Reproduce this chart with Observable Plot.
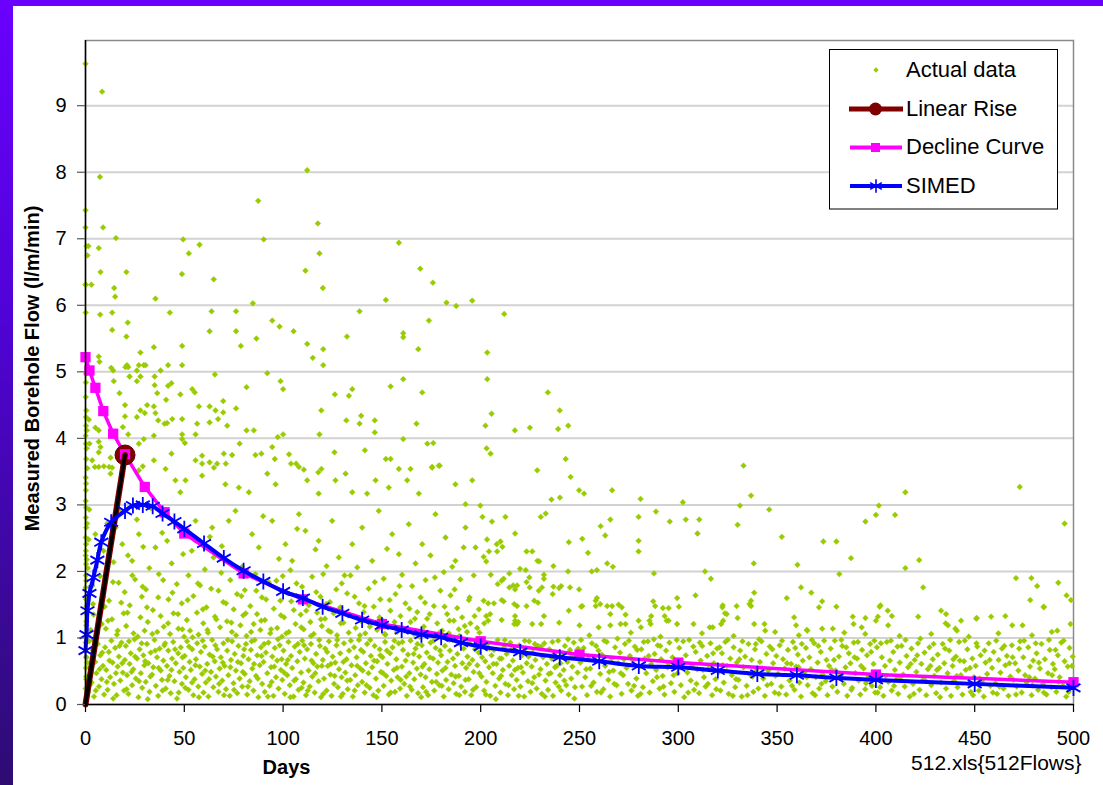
<!DOCTYPE html>
<html><head><meta charset="utf-8">
<script src="https://cdn.jsdelivr.net/npm/d3@7"></script>
<script src="https://cdn.jsdelivr.net/npm/@observablehq/plot@0.6"></script>
<style>
html,body{margin:0;padding:0;}
body{width:1103px;height:785px;overflow:hidden;position:relative;background:linear-gradient(180deg,#6a00ff 0%,#5003d6 40%,#2d0c72 100%);font-family:"Liberation Sans",Arial,sans-serif;}
#panel{position:absolute;left:13px;top:6px;width:1090px;height:779px;background:#fff;}
#chart{position:absolute;left:0;top:0;}
#legend{position:absolute;left:0;top:0;}
</style></head>
<body>
<div id="panel"></div>
<div id="chart"></div>
<svg id="legend" width="1103" height="785"></svg>
<script>
// ---------- Data ----------
const xTicks = [0,50,100,150,200,250,300,350,400,450,500];
const yTicks = [0,1,2,3,4,5,6,7,8,9];

const linearDays = [0,20];
const linearFlows = [0,3.75];

const declineDays = [0,2,5,9,14,20,30,40,50,80,110,150,200,250,300,400,500];
const declineFlows = [5.22,5.02,4.76,4.41,4.07,3.76,3.27,2.89,2.57,1.97,1.58,1.21,0.95,0.75,0.63,0.45,0.335];

const simedDays = [0,0.5,1,2,4,6,8,13,20,24,29,34,39,45,50,60,70,80,90,100,110,120,130,140,150,160,170,180,190,200,220,240,260,280,300,320,340,360,380,400,450,500];
const simedFlows = [0.81,1.05,1.41,1.67,1.91,2.17,2.44,2.74,2.91,2.99,3.0,2.98,2.87,2.75,2.64,2.42,2.2,2.01,1.85,1.70,1.60,1.47,1.37,1.27,1.19,1.12,1.05,1.01,0.93,0.87,0.79,0.71,0.65,0.58,0.56,0.51,0.46,0.44,0.40,0.37,0.31,0.25];

// Actual data: [day, flow]
const actualDay0 = [[0.2,6.31],[0.1,5.89],[0.3,4.97],[0.2,4.84],[0.1,4.62],[0.4,4.42],[0.2,4.32],[0.3,4.19],[0.1,4.04],[0.2,3.92],[0.4,3.69],[0.1,3.41],[0.3,3.32],[0.2,3.22],[0.1,3.06],[0.3,2.96],[0.2,2.81],[0.4,2.66],[0.1,2.51],[0.3,2.41],[0.2,2.31],[0.1,2.24],[0.3,2.11],[0.2,1.94],[0.4,1.86],[0.1,1.76],[0.3,1.58],[0.2,1.37],[0.4,1.19],[0.1,0.93],[0.3,0.71],[0.2,0.55],[0.4,0.38],[0.1,0.24],[0.6,3.85],[0.8,2.72],[0.7,4.12],[0.9,3.55],[0.6,2.18],[0.5,1.48]];

const actualHigh = [[0,9.63],[8.4,9.21],[7.3,7.93],[0,7.43],[0,7.17],[8.9,7.17],[15.4,7.01],[0.5,6.89],[1.5,6.89],[1,6.75],[6.7,6.86],[7.6,6.50],[20.7,6.50],[14.5,6.26],[15,6.13],[0,6.31],[3,6.31],[35.4,6.10],[49.4,6.99],[52.3,6.78],[57.7,6.91],[48.8,6.47],[64.9,6.39],[87.4,7.57],[90.2,6.99],[112.2,8.03],[117.6,7.23],[118.4,6.78],[111.3,6.52],[120.1,6.26],[158.6,6.94],[152,6.08],
[169.4,6.55],[175.8,6.34],[84.7,6.03],[182.7,6.04],[187.6,5.99],[195.7,6.07],[211.9,5.87],[7.4,5.86],[13.5,5.89],[42.7,5.89],[63.8,5.91],[76.2,5.91],[138.7,5.91],[21.4,5.74],[94.5,5.77],[98.2,5.68],[105.3,5.61],[173.8,5.77],[13.5,5.63],[62.8,5.61],[76.2,5.61],[20.7,5.53],[86.5,5.50],[132.3,5.53],[160.8,5.58],[160.8,5.52],[34.6,5.37],[48.9,5.39],[78.6,5.39],[112.2,5.42],[120.3,5.34],[168.4,5.34],[203.3,5.29],[27.8,5.29],[6.7,5.23],[7.1,5.15],[48.9,5.10],[21,5.1],[21.6,5.07],[20.2,5.07],[27,5.1],[29.5,5.1],[30.4,5.1],[41.8,5.1],[13,5.06],[14,5.02],[26,5.02],[38,5.02],[115,5.21],[120.3,5.1],
[22.3,4.93],[27.8,4.93],[35,4.93],[65.5,4.96],[92,4.98],[160.8,4.89],[203.3,4.89],[14.3,4.86],[26,4.86],[35,4.8],[43.5,4.83],[41.8,4.79],[54,4.74],[55.3,4.69],[98.7,4.86],[100,4.74],[81.5,4.77],[154.4,4.78],[135,4.74],[170.4,4.69],[234,4.69],[17.2,4.68],[36.3,4.68],[48,4.66],[126.2,4.66],[133.3,4.64],[40.8,4.58],[20,4.5],[31.2,4.5],[34.6,4.48],[57.4,4.48],[62.8,4.48],[69.7,4.56],[65.8,4.42],[69.7,4.39],[76.2,4.45],[119.3,4.42],[205.5,4.37],[240,4.42],[26,4.32],[27.8,4.42],[30,4.38],[35.4,4.38],[1.7,4.28],[20,4.33],[43.9,4.29],[36.8,4.27],[40,4.22],[41.3,4.23],[48.9,4.29],[56.5,4.22],[62.8,4.24],[67.1,4.29],[71.7,4.19],[132,4.27],[139.5,4.34],[138.7,4.22],[146.4,4.27],[167.5,4.22],[202.4,4.19],[224.9,4.16],[244.3,4.19],[239.2,4.14],[217.3,4.12],
[5,4.16],[6.7,4.12],[18.9,4.17],[21.6,4.06],[34.6,4.04],[48.9,4.06],[48.9,3.99],[50.3,3.93],[55.7,4.06],[81.5,4.12],[85.2,4.12],[97.3,4.02],[100,4.06],[118.4,4.06],[146.4,4.09],[160.8,3.99],[29.5,3.99],[27,3.92],[6.7,3.95],[7.6,3.87],[6.7,3.79],[2,3.92],[78,3.92],[94.5,3.87],[173,3.92],[176,3.93],[203,3.85],[205,3.77],[43.5,3.77],[59,3.74],[70,3.77],[74.2,3.75],[86,3.75],[89,3.77],[103,3.76],[126,3.79],[141.4,3.82],[152,3.69],[154.4,3.69],[243,3.69],[3.4,3.67],[4.7,3.57],[12.7,3.71],[9.3,3.58],[12,3.57],[13.5,3.56],[29,3.58],[34.6,3.67],[55.7,3.67],[59,3.62],[62.8,3.64],[65,3.56],[71,3.62],[95.8,3.69],[104,3.62],[106.6,3.62],[110.5,3.53],[117.8,3.49],[119.4,3.54],[175.4,3.56],[179.2,3.59],[164.5,3.54],[228.6,3.52],[245.5,3.42]];

const actualMidA = [[0.4,1.25],[0.7,1.62],[1.1,2.05],[1.5,2.48],[1.9,2.93],[2.6,1.12],[3.3,1.78],[4.1,1.35],[5.0,2.56],[5.8,1.08],[6.7,3.57],[7.4,1.93],[8.2,1.21],[9.1,2.31],[9.7,1.47],
[10.3,1.14],[11.0,2.72],[11.9,1.56],[12.7,3.47],[13.4,1.28],[14.2,2.14],[15.2,2.66],[15.9,1.05],[16.8,1.83],[17.5,2.92],[18.6,2.41],[19.3,1.37],[19.8,1.69],
[20.6,1.18],[21.5,2.24],[22.4,1.49],[23.6,2.16],[24.3,1.07],[25.1,1.88],[26.0,2.78],[27.0,2.56],[27.0,3.52],[27.8,1.31],[28.5,1.62],[29.2,2.37],[29.9,1.11],
[30.6,1.73],[31.5,1.24],[32.3,2.05],[33.2,2.95],[34.1,1.42],[35.4,2.36],[36.3,1.09],[37.1,1.96],[38.0,1.33],[38.8,2.58],[39.6,1.17],[40.5,3.54],
[41.3,2.46],[42.0,1.58],[42.8,1.06],[43.6,2.12],[44.5,1.37],[45.5,3.37],[46.2,1.81],[47.0,1.14],[48.0,3.19],[48.7,1.52],[49.4,2.26],[49.9,1.02],
[50.6,3.37],[51.3,1.27],[52.1,1.94],[52.9,1.11],[53.8,2.31],[54.6,1.63],[55.7,2.76],[56.4,1.38],[57.2,1.05],[58.0,1.79],[59.0,3.44],[59.6,1.22],
[60.4,2.03],[61.2,1.46],[62.0,1.08],[62.9,2.52],[64.1,2.66],[64.8,2.21],[65.5,1.32],[66.6,3.62],[67.3,1.71],[68.1,1.16],[69.0,2.38],[69.7,1.54],
[70.8,3.31],[71.6,1.25],[72.5,2.76],[73.3,1.87],[74.1,1.09],[75.0,1.43],[75.9,2.91],[76.7,1.66],[77.6,3.26],[78.4,1.19],[79.2,2.07],[79.8,1.34],
[80.6,1.72],[81.5,1.03],[82.7,3.19],[83.4,1.48],[84.3,2.56],[85.1,1.21],[86.0,1.96],[86.8,1.36],[87.7,2.36],[88.5,1.12],[89.3,1.61],[89.9,2.83],
[90.8,1.27],[92.0,3.47],[92.7,1.84],[93.5,1.07],[94.5,2.76],[95.3,1.44],[96.2,3.31],[97.0,1.15],[97.9,2.19],[98.6,1.56],[99.4,1.02],[99.8,1.93],
[100.5,1.31],[101.2,2.41],[102.0,1.68],[102.9,1.09],[103.7,2.02],[104.6,2.16],[105.4,1.42],[106.3,1.21],[107.1,2.64],[108.0,2.86],[108.0,3.57],[108.9,1.35],[109.6,1.77],
[110.4,1.13],[111.3,2.61],[112.2,3.37],[113.0,1.49],[113.8,1.24],[114.7,1.92],[115.5,1.06],[116.4,2.33],[117.2,1.38],[118.0,2.46],[118.0,3.17],[118.9,1.62],[119.6,1.18],
[120.3,1.96],[121.2,1.29],[122.0,2.08],[122.9,1.11],[123.7,1.54],[124.8,2.76],[125.6,1.37],[126.5,3.37],[127.3,1.04],[128.2,2.21],[128.9,1.46],[129.7,1.82],
[130.5,1.23],[131.6,3.47],[132.4,1.67],[133.2,1.08],[134.1,1.94],[135.0,2.41],[135.0,3.19],[135.8,1.33],[136.7,1.15],[137.5,2.06],[138.4,1.52],[139.2,1.26],[140.0,2.66],
[140.8,1.39],[141.6,1.07],[142.5,3.17],[143.3,1.74],[144.2,1.21],[145.1,2.16],[145.9,1.47],[146.8,3.37],[147.6,1.12],[148.4,2.91],[149.2,1.58],
[150.1,1.27],[150.9,1.89],[151.8,1.05],[152.6,2.34],[153.5,3.26],[154.3,1.41],[155.2,2.56],[156.0,1.18],[156.9,1.66],[157.7,1.09],[158.6,2.26],[158.6,3.54],[159.4,1.33],
[160.2,1.95],[161.1,1.14],[161.9,1.52],[162.8,3.37],[163.6,2.71],[164.5,1.24],[165.3,1.78],[166.2,1.06],[167.0,2.12],[167.9,1.39],[168.7,3.17],[169.6,1.61],
[170.4,2.41],[171.2,1.17],[172.1,1.87],[172.9,1.29],[173.8,1.04],[174.6,2.24],[175.4,3.57],[176.3,1.48],[177.1,2.86],[178.0,1.22],[178.8,3.59],[179.6,1.71],
[180.5,1.11],[181.3,1.99],[182.2,2.51],[183.0,1.36],[183.9,1.07],[184.7,1.64],[185.6,2.07],[186.4,1.26],[187.2,3.31],[187.2,2.16],[188.1,1.45],[188.9,1.13],[189.7,1.88],
[190.6,1.31],[191.4,2.36],[192.3,2.66],[192.3,3.01],[193.1,1.09],[194.0,1.57],[194.8,1.22],[195.7,3.37],[196.5,1.94],[197.4,2.36],[198.2,1.15],[199.1,1.43],[199.8,2.99]];

const actualMidC = [[1.3,1.03],[3.8,1.51],[6.4,1.17],[8.9,1.62],[11.4,1.26],[13.9,1.84],[16.3,1.11],[18.1,1.53],[21.2,1.38],[23.7,1.94],[26.4,1.02],[28.9,1.77],[31.1,1.46],[33.8,1.06],[36.8,1.61],[39.3,1.87],[41.8,1.22],[44.0,1.68],[46.8,1.36],[49.0,1.13],[51.7,1.57],[54.2,1.01],[56.9,1.82],[59.4,1.43],[61.7,1.12],[63.6,1.74],[66.2,1.28],[68.7,1.98],[71.1,1.52],[73.8,1.23],[76.2,1.04],[78.9,1.63],[81.1,1.37],[83.8,1.09],[86.4,1.71],[88.9,1.26],[91.4,1.58],[93.9,1.13],[96.6,1.86],[98.9,1.34],[101.6,1.07],[104.1,1.55],[106.8,1.82],[109.2,1.16],[111.7,1.41],[114.1,1.03],[116.8,1.69],[119.1,1.28],[121.8,1.51],[124.1,1.09],[126.9,1.73],[129.2,1.22],[131.1,1.94],[133.8,1.35],[136.2,1.62],[138.9,1.04],[141.2,1.48],[143.9,1.17],[146.4,1.84],[148.8,1.31],[151.3,1.06],[153.9,1.57],[156.4,1.24],[158.9,1.78],[161.4,1.11],[163.9,1.44],[166.7,1.29],[169.1,1.02],[171.8,1.53],[174.2,1.36],[176.8,1.91],[179.1,1.08],[181.7,1.47],[184.2,1.26],[186.8,1.73],[189.3,1.03],[191.9,1.18],[194.4,1.61],[196.9,1.33],[199.4,1.08]];

const actualMidB = [[249.8,3.22],[252.3,3.17],[266.5,3.22],[280.9,3.09],[302.3,3.04],[333,3.59],[336.8,3.14],[331.2,2.99],[346,2.93],[414.9,3.19],[472.8,3.27],[401.5,2.99],[400,2.85],[394.7,2.75],[409.7,2.85],[495.5,2.72],[200.9,2.82],[205.7,2.75],[212.5,2.82],[230.4,2.82],[232.9,2.87],[235.8,3.08],[240.1,3.11],[265.6,2.78],[260.7,2.68],[263,2.54],[279.9,2.82],[288.7,2.90],[295.7,2.75],[303.8,2.78],[310.6,2.78],[309.7,2.57],[279.9,2.46],[279.9,2.30],[330,2.70],[352.4,2.52],[373.4,2.45],[380,2.45],[387.4,2.2],[414.9,2.05],[421.9,2.17],[338.2,2.12],[360.3,2.1],[381.5,1.96],[203.2,2.48],[204.2,2.30],[202.8,2.15],[201.5,2.22],[208.1,2.41],[210,2.45],[211,2.37],[208.3,2.30],[217.4,2.57],[223.2,2.30],[226.1,2.30],[228.7,2.16],[229.6,2.15],[219.9,2.04],[222.8,2.02],[236.8,2.08],[244.6,2.44],[251.4,2.49],[254.3,2.28],[258.8,2.02],[264,2.12],[266.9,2.07],[256.2,2.0],[232,1.95],[244.2,2.0],[205.1,1.95],[214.5,1.97],[287.7,1.97],[313.5,2.0],[316.5,1.89],[470.9,1.90],[478.7,1.90],[481.6,1.78],[492.3,1.83],[496.5,1.64],[478.1,1.57],[484.9,1.47],[498.7,1.57],[498.5,1.21],[423.9,1.76],[362.1,1.76],[367.3,1.68],[354.9,1.60],[372.8,1.55],[380,1.47],[338.4,1.68],[336.8,1.56],[336.8,1.48],[329.5,1.48],[322.3,1.46],[323.6,1.37],[308.7,1.64],[299.4,1.60],[300.3,1.47],[292.2,1.45],[295.1,1.45],[287.3,1.55],[288.3,1.48],[401.9,1.47],[408.1,1.33],[421.4,1.32],[433,1.41],[435.5,1.36],[443.1,1.26],[451,1.30],[458.3,1.32],[465.5,1.33],[469,1.19],[474.2,1.19],[435.3,1.22],[436.5,1.19],[440.2,1.14],[401,1.32],[400,1.26],[394.7,1.30],[392.8,1.16],[388.3,1.32],[406.2,1.19],[372.8,1.14],[378.2,1.14],[358.6,1.31],[359.6,1.19],[365,1.12],[343.6,1.21],[338.4,1.21],[330,1.30],[322.7,1.26],[321.7,1.21],[315.9,1.16],[317.4,1.16],[307.7,1.21],[299.4,1.21],[293.1,1.33],[294.1,1.26],[295.1,1.26],[286.3,1.33],[285.4,1.26],[286,1.21],[279.9,1.26],[281.1,1.16],[273.3,1.35],[273.3,1.21],[270.8,1.21],[269.8,1.50],[271.4,1.46],[266.5,1.48],[264,1.48],[260.5,1.51],[258.2,1.56],[258.2,1.48],[265.6,1.36],[265.6,1.19],[259.7,1.16],[251.4,1.48],[250,1.19],[244.6,1.41],[239.7,1.23],[232,1.33],[230.6,1.21],[229,1.53],[227.1,1.56],[223.2,1.48],[218.4,1.48],[217,1.51],[226.1,1.21],[217.4,1.33],[218.4,1.21],[217.4,1.26],[224.8,1.76],[229.4,1.71],[236.4,1.66],[236.8,1.77],[239.7,1.75],[240.7,1.78],[245.2,1.76],[249.8,1.73],[258.8,1.60],[250.8,1.47],[232,1.89],[231,1.76],[224.6,1.91],[223.2,1.84],[218.4,1.79],[217.4,1.73],[216.4,1.79],[214.5,1.76],[211.6,1.89],[210.6,1.86],[208.6,1.81],[201.5,1.56],[203.8,1.52],[206.7,1.52],[210.6,1.57],[211.6,1.55],[202.8,1.33],[204.8,1.36],[203.8,1.26],[210.6,1.27],[201.8,1.22],[217,1.21],[219,1.24],
[322.5,1.49],[324.5,1.36],[336,1.51],[344,1.11],[365.3,1.11],[371.2,1.46],[402.3,1.49],[406,1.41],[441,1.11],[450.8,1.29],[485,1.46],[491.8,1.11],[388.7,1.21],[394.6,1.06],
[255,1.04],[276,1.08],[291,1.02],[312,1.07],[328,1.03],[349,1.09],[361,1.04],[384,1.08],[412,1.03],[428,1.06],[447,1.02],[462,1.07],[479,1.04],[489,1.09]];

const actualLowA = [[0.3,0.42],[0.5,0.71],[1.2,0.18],[1.8,0.95],[2.4,0.56],[3.1,0.33],[3.6,0.82],[4.3,0.12],[4.9,0.64],[5.5,0.47],[6.2,0.91],[6.8,0.27],[7.5,0.74],[8.1,0.38],[8.8,0.58],[9.4,0.15],[9.9,0.86],
[10.5,0.52],[11.2,0.22],[11.8,0.79],[12.5,0.41],[13.1,0.96],[13.7,0.63],[14.4,0.31],[15.0,0.85],[15.7,0.14],[16.3,0.57],[16.9,0.72],[17.6,0.36],[18.2,0.93],[18.9,0.48],[19.5,0.21],[19.9,0.67],
[20.4,0.88],[21.0,0.44],[21.7,0.16],[22.3,0.61],[22.9,0.77],[23.6,0.29],[24.2,0.53],[24.8,0.98],[25.5,0.39],[26.1,0.69],[26.8,0.11],[27.4,0.83],[28.0,0.47],[28.7,0.25],[29.3,0.74],[29.8,0.59],
[30.5,0.34],[31.1,0.91],[31.8,0.62],[32.4,0.19],[33.0,0.78],[33.7,0.45],[34.3,0.56],[34.9,0.97],[35.6,0.28],[36.2,0.71],[36.8,0.13],[37.5,0.84],[38.1,0.51],[38.7,0.37],[39.4,0.66],[39.9,0.89],
[40.6,0.24],[41.2,0.58],[41.9,0.81],[42.5,0.43],[43.1,0.17],[43.8,0.69],[44.4,0.94],[45.0,0.35],[45.7,0.62],[46.3,0.09],[46.9,0.77],[47.6,0.49],[48.2,0.86],[48.8,0.31],[49.5,0.55],
[50.2,0.73],[50.8,0.41],[51.4,0.95],[52.1,0.22],[52.7,0.64],[53.3,0.52],[54.0,0.83],[54.6,0.14],[55.2,0.38],[55.9,0.68],[56.5,0.92],[57.1,0.27],[57.8,0.57],[58.4,0.79],[59.0,0.46],[59.7,0.18],
[60.3,0.87],[60.9,0.33],[61.6,0.61],[62.2,0.12],[62.8,0.75],[63.5,0.49],[64.1,0.97],[64.7,0.26],[65.4,0.65],[66.0,0.42],[66.6,0.83],[67.3,0.19],[67.9,0.54],[68.5,0.71],[69.2,0.36],[69.8,0.92],
[70.4,0.58],[71.1,0.23],[71.7,0.81],[72.3,0.44],[73.0,0.13],[73.6,0.67],[74.2,0.95],[74.9,0.32],[75.5,0.76],[76.1,0.51],[76.8,0.17],[77.4,0.88],[78.0,0.39],[78.7,0.62],[79.3,0.27],[79.9,0.73],
[80.6,0.46],[81.2,0.91],[81.8,0.15],[82.5,0.68],[83.1,0.35],[83.7,0.82],[84.4,0.54],[85.0,0.21],[85.6,0.97],[86.3,0.43],[86.9,0.74],[87.5,0.11],[88.2,0.59],[88.8,0.86],[89.4,0.31],
[90.1,0.64],[90.7,0.19],[91.3,0.78],[92.0,0.47],[92.6,0.93],[93.2,0.28],[93.9,0.56],[94.5,0.72],[95.1,0.13],[95.8,0.85],[96.4,0.41],[97.0,0.66],[97.7,0.24],[98.3,0.89],[98.9,0.52],[99.6,0.37],
[100.2,0.81],[100.8,0.16],[101.5,0.61],[102.1,0.44],[102.7,0.94],[103.4,0.29],[104.0,0.73],[104.6,0.55],[105.3,0.12],[105.9,0.87],[106.5,0.38],[107.2,0.65],[107.8,0.22],[108.4,0.79],[109.1,0.48],[109.7,0.96],
[110.3,0.33],[111.0,0.69],[111.6,0.14],[112.2,0.83],[112.9,0.51],[113.5,0.27],[114.1,0.91],[114.8,0.42],[115.4,0.62],[116.0,0.18],[116.7,0.76],[117.3,0.57],[117.9,0.35],[118.6,0.88],[119.2,0.11],
[120.1,0.67],[120.7,0.39],[121.3,0.84],[122.0,0.21],[122.6,0.58],[123.2,0.95],[123.9,0.45],[124.5,0.13],[125.1,0.72],[125.8,0.31],[126.4,0.63],[127.0,0.89],[127.7,0.26],[128.3,0.53],[128.9,0.77],[129.6,0.41],
[130.2,0.16],[130.8,0.92],[131.5,0.48],[132.1,0.68],[132.7,0.23],[133.4,0.81],[134.0,0.37],[134.6,0.59],[135.3,0.12],[135.9,0.86],[136.5,0.44],[137.2,0.71],[137.8,0.29],[138.4,0.97],[139.1,0.54],
[140.0,0.34],[140.6,0.79],[141.3,0.18],[141.9,0.62],[142.5,0.91],[143.2,0.47],[143.8,0.25],[144.4,0.73],[145.1,0.56],[145.7,0.14],[146.3,0.88],[147.0,0.39],[147.6,0.65],[148.2,0.21],[148.9,0.83],[149.5,0.49],
[150.3,0.71],[150.9,0.28],[151.6,0.94],[152.2,0.43],[152.8,0.61],[153.5,0.15],[154.1,0.77],[154.7,0.36],[155.4,0.86],[156.0,0.52],[156.6,0.19],[157.3,0.68],[157.9,0.41],[158.5,0.92],[159.2,0.24],
[160.1,0.57],[160.7,0.82],[161.3,0.31],[162.0,0.66],[162.6,0.13],[163.2,0.75],[163.9,0.47],[164.5,0.96],[165.1,0.22],[165.8,0.63],[166.4,0.38],[167.0,0.84],[167.7,0.54],[168.3,0.17],[168.9,0.72],[169.6,0.45],
[170.2,0.89],[170.8,0.26],[171.5,0.61],[172.1,0.41],[172.7,0.78],[173.4,0.14],[174.0,0.53],[174.6,0.93],[175.3,0.34],[175.9,0.69],[176.5,0.21],[177.2,0.85],[177.8,0.46],[178.4,0.63],[179.1,0.29],
[180.0,0.74],[180.6,0.51],[181.3,0.12],[181.9,0.88],[182.5,0.37],[183.2,0.64],[183.8,0.23],[184.4,0.81],[185.1,0.45],[185.7,0.97],[186.3,0.32],[187.0,0.58],[187.6,0.16],[188.2,0.76],[188.9,0.43],[189.5,0.91],
[190.1,0.27],[190.7,0.62],[191.4,0.84],[192.0,0.19],[192.6,0.55],[193.3,0.72],[193.9,0.38],[194.5,0.95],[195.2,0.14],[195.8,0.67],[196.4,0.49],[197.1,0.83],[197.7,0.26],[198.3,0.59],[199.0,0.78],
[200.4,0.42],[201.0,0.87],[201.7,0.21],[202.3,0.65],[202.9,0.34],[203.6,0.91],[204.2,0.56],[204.8,0.13],[205.5,0.74],[206.1,0.47],[206.7,0.82],[207.4,0.28],[208.0,0.61],[208.6,0.97],[209.3,0.39],
[210.0,0.18],[210.6,0.69],[211.2,0.52],[211.9,0.86],[212.5,0.31],[213.1,0.76],[213.8,0.14],[214.4,0.58],[215.0,0.93],[215.7,0.44],[216.3,0.66],[216.9,0.23],[217.6,0.81],[218.2,0.37],[218.8,0.55],[219.5,0.89],
[220.1,0.27],[220.7,0.73],[221.4,0.48],[222.0,0.12],[222.6,0.84],[223.3,0.62],[223.9,0.35],[224.5,0.95],[225.2,0.19],[225.8,0.57],[226.4,0.78],[227.1,0.41],[227.7,0.67],[228.3,0.24],[229.0,0.88],
[230.3,0.53],[230.9,0.16],[231.6,0.71],[232.2,0.92],[232.8,0.36],[233.5,0.61],[234.1,0.22],[234.7,0.83],[235.4,0.47],[236.0,0.69],[236.6,0.13],[237.3,0.77],[237.9,0.33],[238.5,0.58],[239.2,0.96],
[240.1,0.44],[240.7,0.21],[241.4,0.75],[242.0,0.52],[242.6,0.88],[243.3,0.29],[243.9,0.64],[244.5,0.15],[245.2,0.82],[245.8,0.39],[246.4,0.57],[247.1,0.93],[247.7,0.26],[248.3,0.71],[249.0,0.48]];

const actualLowB = [[250.4,0.63],[251.3,0.27],[252.1,0.85],[252.9,0.41],[253.8,0.14],[254.6,0.72],[255.4,0.54],[256.3,0.92],[257.1,0.33],[257.9,0.67],[258.8,0.19],[259.6,0.81],
[260.5,0.46],[261.3,0.75],[262.1,0.23],[263.0,0.58],[263.8,0.94],[264.6,0.37],[265.5,0.12],[266.3,0.69],[267.1,0.51],[268.0,0.86],[268.8,0.29],[269.6,0.62],
[270.5,0.78],[271.3,0.16],[272.1,0.44],[273.0,0.91],[273.8,0.55],[274.6,0.31],[275.5,0.73],[276.3,0.21],[277.1,0.66],[278.0,0.87],[278.8,0.39],[279.6,0.13],
[280.5,0.57],[281.3,0.83],[282.1,0.26],[283.0,0.69],[283.8,0.47],[284.6,0.95],[285.5,0.18],[286.3,0.61],[287.1,0.35],[288.0,0.76],[288.8,0.52],[289.6,0.89],
[290.5,0.24],[291.3,0.68],[292.1,0.43],[293.0,0.15],[293.8,0.81],[294.6,0.56],[295.5,0.93],[296.3,0.32],[297.1,0.71],[298.0,0.19],[298.8,0.64],[299.6,0.47],
[300.5,0.85],[301.3,0.29],[302.1,0.62],[303.0,0.11],[303.8,0.74],[304.6,0.48],[305.5,0.97],[306.3,0.36],[307.1,0.58],[308.0,0.22],[308.8,0.79],[309.6,0.53],
[310.5,0.17],[311.3,0.66],[312.1,0.88],[313.0,0.41],[313.8,0.27],[314.6,0.73],[315.5,0.55],[316.3,0.92],[317.1,0.14],[318.0,0.62],[318.8,0.38],[319.6,0.84],
[320.5,0.49],[321.3,0.21],[322.1,0.77],[323.0,0.33],[323.8,0.94],[324.6,0.58],[325.5,0.16],[326.3,0.69],[327.1,0.44],[328.0,0.86],[328.8,0.26],[329.6,0.63],
[330.5,0.37],[331.3,0.81],[332.1,0.12],[333.0,0.56],[333.8,0.72],[334.6,0.28],[335.5,0.91],[336.3,0.45],[337.1,0.67],[338.0,0.19],[338.8,0.83],[339.6,0.52],
[340.5,0.24],[341.3,0.64],[342.1,0.95],[343.0,0.39],[343.8,0.13],[344.6,0.76],[345.5,0.51],[346.3,0.87],[347.1,0.31],[348.0,0.62],[348.8,0.18],[349.6,0.73],
[350.5,0.46],[351.3,0.89],[352.1,0.27],[353.0,0.68],[353.8,0.54],[354.6,0.15],[355.5,0.82],[356.3,0.36],[357.1,0.61],[358.0,0.94],[358.8,0.22],[359.6,0.57],
[360.5,0.75],[361.3,0.33],[362.1,0.12],[363.0,0.66],[363.8,0.48],[364.6,0.85],[365.5,0.29],[366.3,0.71],[367.1,0.53],[368.0,0.17],[368.8,0.92],[369.6,0.41],
[370.5,0.63],[371.3,0.24],[372.1,0.79],[373.0,0.45],[373.8,0.96],[374.6,0.35],[375.5,0.14],[376.3,0.58],[377.1,0.84],[378.0,0.27],[378.8,0.67],[379.6,0.51],
[380.5,0.19],[381.3,0.72],[382.1,0.43],[383.0,0.88],[383.8,0.31],[384.6,0.56],[385.5,0.13],[386.3,0.77],[387.1,0.62],[388.0,0.25],[388.8,0.93],[389.6,0.47],
[390.5,0.69],[391.3,0.36],[392.1,0.15],[393.0,0.82],[393.8,0.54],[394.6,0.23],[395.5,0.74],[396.3,0.42],[397.1,0.91],[398.0,0.28],[398.8,0.61],[399.6,0.18],
[400.5,0.86],[401.3,0.47],[402.1,0.26],[403.0,0.71],[403.8,0.13],[404.6,0.58],[405.5,0.94],[406.3,0.34],[407.1,0.66],[408.0,0.21],[408.8,0.79],[409.6,0.52],
[410.5,0.38],[411.3,0.16],[412.1,0.63],[413.0,0.88],[413.8,0.45],[414.6,0.27],[415.5,0.73],[416.3,0.56],[417.1,0.12],[418.0,0.84],[418.8,0.31],[419.6,0.67],
[420.5,0.49],[421.3,0.92],[422.1,0.22],[423.0,0.61],[423.8,0.37],[424.6,0.78],[425.5,0.14],[426.3,0.53],[427.1,0.86],[428.0,0.29],[428.8,0.68],[429.6,0.43],
[430.5,0.17],[431.3,0.75],[432.1,0.55],[433.0,0.33],[433.8,0.91],[434.6,0.62],[435.5,0.24],[436.3,0.47],[437.1,0.81],[438.0,0.13],[438.8,0.58],[439.6,0.36],
[440.5,0.72],[441.3,0.26],[442.1,0.94],[443.0,0.44],[443.8,0.15],[444.6,0.65],[445.5,0.52],[446.3,0.83],[447.1,0.31],[448.0,0.19],[448.8,0.69],[449.6,0.41],
[450.5,0.58],[451.3,0.87],[452.1,0.21],[453.0,0.74],[453.8,0.35],[454.6,0.12],[455.5,0.63],[456.3,0.46],[457.1,0.92],[458.0,0.28],[458.8,0.55],[459.6,0.79],
[460.5,0.32],[461.3,0.16],[462.1,0.67],[463.0,0.48],[463.8,0.84],[464.6,0.24],[465.5,0.59],[466.3,0.73],[467.1,0.13],[468.0,0.42],[468.8,0.89],[469.6,0.37],
[470.5,0.62],[471.3,0.27],[472.1,0.51],[473.0,0.95],[473.8,0.18],[474.6,0.71],[475.5,0.44],[476.3,0.33],[477.1,0.86],[478.0,0.57],[478.8,0.14],[479.6,0.66],
[480.5,0.39],[481.3,0.77],[482.1,0.22],[483.0,0.54],[483.8,0.91],[484.6,0.31],[485.5,0.68],[486.3,0.15],[487.1,0.47],[488.0,0.82],[488.8,0.26],[489.6,0.61],
[490.5,0.53],[491.3,0.19],[492.1,0.74],[493.0,0.41],[493.8,0.93],[494.6,0.28],[495.5,0.65],[496.3,0.12],[497.1,0.57],[498.0,0.85],[498.8,0.36],[499.6,0.72]];

const actualLowC = [[0.9,0.63],[2.1,0.29],[3.9,0.97],[5.2,0.21],[7.1,0.53],[8.5,0.78],
[10.8,0.34],[12.1,0.66],[14.0,0.09],[15.4,0.47],[17.2,0.88],[18.6,0.62],
[20.8,0.23],[22.0,0.95],[23.3,0.49],[25.1,0.72],[27.1,0.35],[28.4,0.92],
[30.2,0.65],[31.5,0.08],[32.8,0.42],[35.3,0.81],[37.0,0.55],[39.0,0.21],
[40.3,0.92],[41.6,0.37],[43.5,0.52],[45.3,0.83],[47.2,0.18],[49.1,0.71],
[50.5,0.25],[52.4,0.87],[53.9,0.33],[55.6,0.59],[57.4,0.11],[59.3,0.96],
[60.6,0.51],[62.5,0.38],[64.4,0.72],[65.7,0.89],[67.6,0.31],[69.5,0.63],
[70.1,0.14],[72.0,0.97],[73.3,0.56],[75.2,0.22],[77.1,0.64],[79.6,0.49],
[80.3,0.83],[82.2,0.27],[84.1,0.95],[85.3,0.61],[87.2,0.39],[89.1,0.73],
[90.4,0.91],[92.3,0.12],[94.2,0.34],[95.5,0.57],[97.4,0.98],[99.3,0.68],
[100.5,0.48],[102.4,0.67],[103.7,0.11],[105.6,0.36],[107.5,0.91],[109.4,0.25],
[110.6,0.89],[112.5,0.21],[114.4,0.66],[116.3,0.47],[118.3,0.97],[119.6,0.58],
[120.4,0.16],[122.3,0.79],[124.2,0.61],[126.1,0.43],[127.4,0.97],[129.3,0.12],
[130.5,0.64],[132.4,0.36],[134.3,0.96],[136.2,0.21],[137.5,0.58],[139.4,0.82],
[140.3,0.51],[142.2,0.29],[144.1,0.97],[146.0,0.66],[147.3,0.11],[149.2,0.74],
[150.6,0.47],[152.5,0.81],[154.4,0.18],[156.3,0.96],[157.6,0.55],[159.5,0.37],
[160.4,0.94],[162.3,0.42],[164.2,0.27],[166.1,0.76],[168.0,0.91],[169.9,0.11],
[170.5,0.57],[172.4,0.19],[174.3,0.71],[176.2,0.96],[177.5,0.34],[179.4,0.81],
[180.3,0.28],[182.2,0.55],[184.1,0.97],[186.0,0.69],[187.3,0.42],[189.2,0.14],
[190.4,0.93],[192.3,0.37],[194.2,0.61],[196.1,0.22],[197.4,0.96],[199.3,0.47],
[200.7,0.71],[202.6,0.15],[204.5,0.84],[206.4,0.61],[207.7,0.08],[209.6,0.69],
[210.3,0.43],[212.2,0.97],[214.1,0.29],[216.0,0.84],[217.3,0.52],[219.2,0.13],
[220.4,0.56],[222.3,0.96],[224.2,0.72],[226.1,0.32],[227.4,0.91],[229.5,0.45],
[230.6,0.87],[232.5,0.12],[234.4,0.46],[236.3,0.94],[237.6,0.56],[239.5,0.27],
[240.4,0.62],[242.3,0.36],[244.2,0.98],[246.1,0.72],[247.4,0.09],[249.3,0.84],
[250.8,0.97],[253.4,0.53],[255.9,0.28],[258.4,0.88],
[260.9,0.18],[262.5,0.96],[265.0,0.49],[267.6,0.31],[269.2,0.99],
[270.9,0.47],[272.5,0.68],[275.0,0.96],[277.6,0.28],[279.2,0.82],
[280.9,0.16],[282.5,0.94],[285.0,0.73],[287.6,0.98],[289.2,0.41],
[290.9,0.88],[292.5,0.27],[295.0,0.62],[297.6,0.44],[299.2,0.97],
[300.9,0.56],[302.5,0.95],[305.0,0.18],[307.6,0.87],[309.2,0.31],
[310.9,0.93],[312.5,0.52],[315.0,0.31],[317.6,0.77],[319.2,0.23],
[320.9,0.86],[322.5,0.59],[325.0,0.97],[327.6,0.13],[329.2,0.38],
[330.9,0.68],[332.5,0.95],[335.0,0.14],[337.6,0.42],[339.2,0.91],
[340.9,0.98],[342.5,0.54],[345.0,0.29],[347.6,0.83],[349.2,0.43],
[350.9,0.16],[352.5,0.96],[355.0,0.62],[357.6,0.28],[359.2,0.85],
[360.9,0.56],[362.5,0.91],[365.0,0.41],[367.6,0.97],[369.2,0.14],
[370.9,0.88],[372.5,0.31],[375.0,0.67],[377.6,0.52],[379.2,0.96],
[380.9,0.41],[382.5,0.97],[385.0,0.86],[387.6,0.22],[389.2,0.71],
[390.9,0.94],[392.5,0.58],[395.0,0.32],[397.6,0.79],[399.2,0.96],
[400.9,0.18],[402.5,0.92],[405.0,0.43],[407.6,0.96],[409.2,0.28],
[410.9,0.87],[412.5,0.41],[415.0,0.97],[417.6,0.61],[419.2,0.16],
[420.9,0.74],[422.5,0.99],[425.0,0.36],[427.6,0.58],[429.2,0.91],
[430.9,0.52],[432.5,0.11],[435.0,0.84],[437.6,0.97],[439.2,0.68],
[440.9,0.43],[442.5,0.66],[445.0,0.96],[447.6,0.55],[449.2,0.14],
[450.9,0.92],[452.5,0.39],[455.0,0.81],[457.6,0.67],[459.2,0.18],
[460.9,0.96],[462.5,0.27],[465.0,0.88],[467.6,0.62],[469.2,0.71],
[470.9,0.15],[472.5,0.84],[475.0,0.96],[477.6,0.41],[479.2,0.29],
[480.9,0.92],[482.5,0.63],[485.0,0.18],[487.6,0.97],[489.2,0.44],
[490.9,0.82],[492.5,0.34],[495.0,0.96],[497.6,0.19],[499.2,0.58]];

const legendLabels = ["Actual data","Linear Rise","Decline Curve","SIMED"];
const yLabel = "Measured Borehole Flow (l/m/min)";
const xLabel = "Days";
const captionText = "512.xls{512Flows}";

// ---------- Build ----------
const actual = [...actualDay0, ...actualHigh, ...actualMidA, ...actualMidB, ...actualMidC, ...actualLowA, ...actualLowB, ...actualLowC];
const linear = linearDays.map((d,i)=>({day:d, flow:linearFlows[i]}));
const decline = declineDays.map((d,i)=>({day:d, flow:declineFlows[i]}));
const simed = simedDays.map((d,i)=>({day:d, flow:simedFlows[i]}));

const font = "'Liberation Sans', Arial, sans-serif";

const chart = Plot.plot({
  width: 1103, height: 785,
  marginLeft: 85, marginRight: 30, marginTop: 40, marginBottom: 81,
  style: {background: "transparent", fontFamily: font, fontSize: "20px", color: "#000", overflow: "visible"},
  x: {domain: [0, 500], label: null},
  y: {domain: [0, 9.98], label: null},
  marks: [
    Plot.gridY(yTicks.slice(1), {stroke: "#d2d2d2", strokeWidth: 2, strokeOpacity: 1}),
    Plot.frame({stroke: "#8a8a8a", strokeWidth: 1.5}),
    Plot.dot(actual, {x: d => d[0], y: d => d[1], symbol: "diamond2", r: 2.6, fill: "#99cc00", stroke: "#99cc00", strokeWidth: 0.5}),
    Plot.line(decline, {x: "day", y: "flow", stroke: "#ff00ff", strokeWidth: 3.5}),
    Plot.dot(linear.slice(1), {x: "day", y: "flow", r: 10, fill: "#800000", stroke: "#5a0000", strokeWidth: 1}),
    Plot.dot(decline, {x: "day", y: "flow", symbol: "square", r: 5.8, fill: "#ff00ff"}),
    Plot.line(linear, {x: "day", y: "flow", stroke: "#800000", strokeWidth: 6}),
    Plot.line(linear, {x: "day", y: "flow", stroke: "#000", strokeWidth: 3.6}),
    Plot.line(simed, {x: "day", y: "flow", stroke: "#0000ff", strokeWidth: 4, curve: "catmull-rom"}),
    Plot.dot(simed, {x: "day", y: "flow", symbol: "asterisk", r: 7.6, stroke: "#0000ff", strokeWidth: 1.8}),
    Plot.ruleY([0], {stroke: "#000", strokeWidth: 1.5}),
    Plot.ruleX([0], {stroke: "#000", strokeWidth: 1.5}),
    Plot.axisX({ticks: xTicks, tickSize: 8, tickPadding: 18, label: null, stroke: "#000", strokeWidth: 1.2, fontSize: 20}),
    Plot.axisY({ticks: yTicks, tickSize: 8, tickPadding: 11, label: null, stroke: "#555", strokeWidth: 1.2, fontSize: 20}),
    Plot.text([0], {frameAnchor: "left", dx: -53, dy: -4, rotate: -90, text: () => yLabel, fontWeight: "bold", fontSize: 20, textAnchor: "middle", lineAnchor: "middle"}),
    Plot.text([0], {frameAnchor: "bottom-left", dx: 201, dy: 63, text: () => xLabel, fontWeight: "bold", fontSize: 20, textAnchor: "middle", lineAnchor: "middle"}),
    Plot.text([0], {frameAnchor: "bottom-right", dx: 8, dy: 59, text: () => captionText, fontSize: 21, textAnchor: "end", lineAnchor: "middle"})
  ]
});
document.getElementById("chart").appendChild(chart);

// ---------- Legend ----------
const lg = d3.select("#legend").style("font-family", font);
lg.append("rect").attr("x", 829.5).attr("y", 49.5).attr("width", 228).attr("height", 159.5)
  .attr("fill", "#fff").attr("stroke", "#000").attr("stroke-width", 1);
const rowsY = [70, 109, 147.5, 186];
lg.append("path").attr("d", d3.symbol(d3.symbolSquare, 14)()).attr("transform", `translate(876,${rowsY[0]}) rotate(45)`).attr("fill", "#99cc00");
lg.append("line").attr("x1", 849).attr("x2", 903).attr("y1", rowsY[1]).attr("y2", rowsY[1]).attr("stroke", "#800000").attr("stroke-width", 5);
lg.append("circle").attr("cx", 875.5).attr("cy", rowsY[1]).attr("r", 6.5).attr("fill", "#800000");
lg.append("line").attr("x1", 850).attr("x2", 902).attr("y1", rowsY[2]).attr("y2", rowsY[2]).attr("stroke", "#ff00ff").attr("stroke-width", 4);
lg.append("rect").attr("x", 871).attr("y", rowsY[2] - 4.5).attr("width", 9).attr("height", 9).attr("fill", "#ff00ff");
lg.append("line").attr("x1", 850).attr("x2", 902).attr("y1", rowsY[3]).attr("y2", rowsY[3]).attr("stroke", "#0000ff").attr("stroke-width", 4);
lg.append("path").attr("d", d3.symbol(d3.symbolAsterisk, 130)()).attr("transform", `translate(876,${rowsY[3]})`).attr("fill", "none").attr("stroke", "#0000ff").attr("stroke-width", 1.6);
lg.selectAll("text.lab").data(legendLabels).join("text").attr("class", "lab")
  .attr("x", 906).attr("y", (d, i) => rowsY[i] + 6.5).attr("font-size", 22).attr("fill", "#000").text(d => d);
</script>
</body></html>
